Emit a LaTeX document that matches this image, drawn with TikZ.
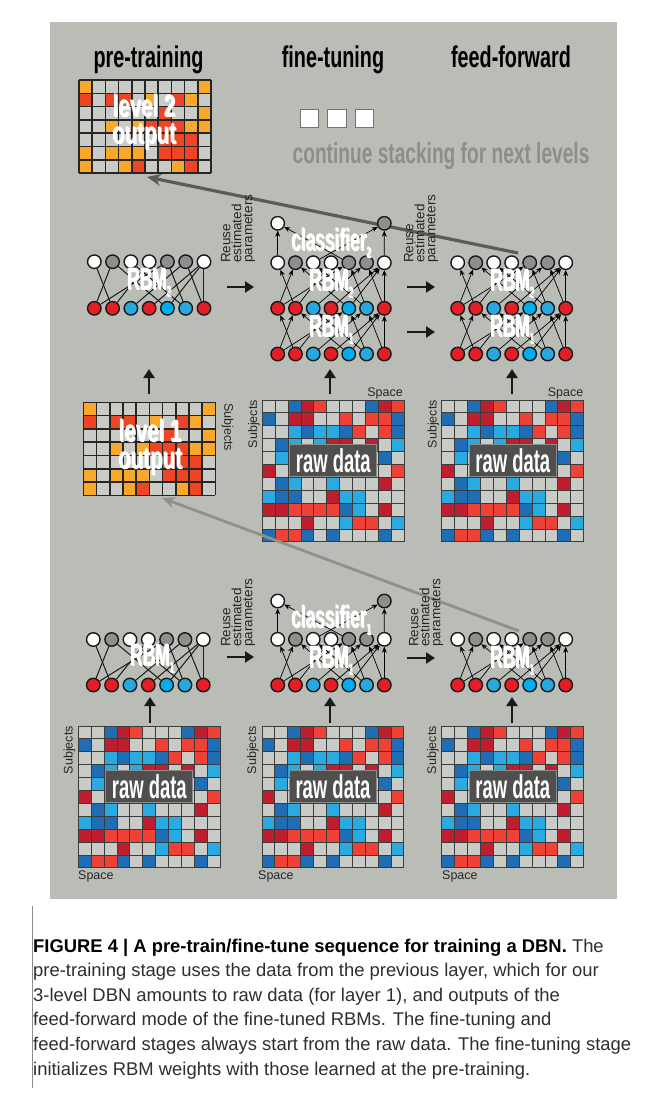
\documentclass[tikz,border=0pt]{standalone}
\usepackage{fontspec}
\setmainfont{Liberation Sans}
\newfontfamily\condA[FakeStretch=0.66]{Liberation Sans}
\newfontfamily\condB[FakeStretch=0.56]{Liberation Sans}
\usetikzlibrary{arrows.meta}
\definecolor{panel}{HTML}{BABCB6}
\definecolor{gr}{HTML}{C9CBC6}
\definecolor{db}{HTML}{1F6DB4}
\definecolor{lb}{HTML}{29AAE1}
\definecolor{dr}{HTML}{BE1E2D}
\definecolor{rd}{HTML}{EF4136}
\definecolor{or}{HTML}{F9A82B}
\definecolor{oq}{HTML}{EE4524}
\definecolor{nw}{HTML}{FFFFFF}
\definecolor{ng}{HTML}{8D8F8E}
\definecolor{nr}{HTML}{E31E25}
\definecolor{nb}{HTML}{27A8DF}
\definecolor{nc}{HTML}{00AEEF}
\definecolor{boxc}{HTML}{4F504E}
\definecolor{arrA}{HTML}{5A5C59}
\definecolor{arrB}{HTML}{8E908C}
\definecolor{stackc}{HTML}{8C8E8A}
\definecolor{rawline}{HTML}{3C3C3C}
\definecolor{captxt}{HTML}{2E2E2E}

\def\rawrows{{gr,gr,db,dr,rd,gr,gr,gr,db,dr,rd},{db,gr,dr,dr,gr,gr,rd,gr,rd,rd,db},{gr,gr,lb,db,lb,lb,db,rd,gr,rd,db},{gr,db,lb,gr,lb,dr,dr,gr,dr,gr,lb},{gr,lb,gr,gr,gr,gr,gr,gr,gr,db,gr},{dr,gr,gr,gr,gr,gr,gr,gr,gr,gr,rd},{gr,db,lb,gr,gr,lb,gr,gr,gr,dr,gr},{lb,db,db,gr,gr,dr,lb,lb,gr,gr,gr},{dr,dr,rd,rd,rd,rd,db,lb,gr,dr,gr},{gr,gr,gr,dr,gr,gr,lb,rd,rd,gr,lb},{db,rd,rd,db,gr,db,gr,gr,gr,db,gr}}
\def\outrows{{or,gr,gr,gr,gr,gr,gr,gr,gr,or},{oq,gr,oq,oq,gr,or,gr,oq,or,gr},{gr,gr,gr,gr,gr,gr,oq,gr,gr,or},{gr,gr,or,gr,or,oq,oq,oq,or,or},{gr,gr,gr,gr,gr,gr,oq,oq,oq,gr},{or,gr,or,or,or,gr,oq,oq,oq,gr},{or,gr,gr,or,oq,gr,gr,or,oq,gr}}

% name, x0, y0, cw, ch, ncols, nrows, rows, line style
\newcommand{\cellgrid}[9]{%
 \foreach \rw [count=\r] in #8 {%
  \foreach \cc [count=\k] in \rw {%
   \fill[fill=\cc] ({#2+(\k-1)*#4},{#3+(\r-1)*#5}) rectangle ++(#4,#5);
  }%
 }%
 \foreach \k in {0,...,#6} \draw[#9] ({#2+\k*#4},#3) -- ++(0,{#7*#5});
 \foreach \k in {0,...,#7} \draw[#9] (#2,{#3+\k*#5}) -- ++({#6*#4},0);
 \node[inner sep=0pt, outer sep=0pt, minimum width={#6*#4}, minimum height={#7*#5}, anchor=north west] (#1) at (#2,#3) {};
}
\newcommand{\rawgrid}[3]{% name, x0, y0
 \cellgrid{#1}{#2}{#3}{12.9}{12.9}{11}{11}{\rawrows}{line width=0.9pt, rawline}
 \node[rawbox] (#1box) at ({#2+71},{#3+60.5}) {raw data};
}
\newcommand{\layer}[5]{\foreach \cl [count=\i] in #5 {\node[nd, fill=\cl] (#1\i) at ({#2+(\i-1)*#3},#4) {};}}
\def\topcols{nw,ng,nw,nw,ng,ng,nw}
\def\botcols{nr,nr,nb,nr,nc,nb,nr}
\def\edges{1/2,2/1,2/5,5/1,3/6,6/3,5/6,7/4,7/5,7/7,4/2,6/7}
\newcommand{\undir}[2]{\foreach \tp/\bt in \edges {\draw[ln] (#1\tp) -- (#2\bt);}}
\newcommand{\direc}[2]{\foreach \tp/\bt in \edges {\draw[arr] (#2\bt) -- (#1\tp);}}
\newsavebox\labbox
\newcommand{\wlab}[5]{%
 \node[inner sep=0pt, text=white, font=#4] (#1) at (#2,#3) {\sbox\labbox{\begin{tabular}{@{}c@{}}#5\end{tabular}}\rlap{\kern1pt\raisebox{-1pt}{\color{black!60}\usebox\labbox}}\usebox\labbox};}
\newcommand{\hfont}{\condA\bfseries\fontsize{30}{30}\selectfont}
\newcommand{\lvfont}{\condA\bfseries\fontsize{31}{25}\selectfont}
\newcommand{\rbfont}{\condB\bfseries\fontsize{31}{31}\selectfont}
\newcommand{\sub}[1]{\raisebox{-7pt}{\fontsize{15}{15}\selectfont #1}}

\tikzset{
 nd/.style={circle, draw=black!90, line width=1.4pt, minimum size=13.5pt, inner sep=0pt},
 ln/.style={line width=1pt, black!90},
 arr/.style={line width=0.7pt, black, -{Stealth[length=6pt,width=5pt]}},
 bigarr/.style={line width=2.8pt, black!90, -{Triangle[length=9pt,width=11pt]}},
 rawbox/.style={fill=boxc, draw=black!45, line width=0.8pt, minimum width=87pt, minimum height=32pt, inner sep=0pt, text=white, font=\condB\bfseries\fontsize{33}{33}\selectfont},
 smalltxt/.style={inner sep=0pt, text=black!85, font=\fontsize{12.5}{12.5}\selectfont},
 reuse/.style={inner sep=0pt, rotate=90, align=left, text=black!85, font=\fontsize{13.5}{11}\selectfont, anchor=north west},
 hdr/.style={inner sep=0pt, anchor=base, font=\hfont},
 sqbox/.style={draw=black!55, fill=white, line width=0.6pt, minimum size=18.5pt, inner sep=0pt},
 captext/.style={inner sep=0pt, anchor=base west, text=captxt, font=\fontsize{18.4}{18.4}\selectfont},
}

\begin{document}
\begin{tikzpicture}[x=1pt,y=-1pt]
\useasboundingbox (0,0) rectangle (656,1093);
\fill[white] (0,0) rectangle (656,1093);
\fill[panel] (50,22) rectangle (617,899);

% headers
\node[hdr] (h1) at (148.5,67) {pre-training};
\node[hdr] (h2) at (333,67) {fine-tuning};
\node[hdr] (h3) at (511,67) {feed-forward};

% continue stacking
\node[sqbox] (sq1) at (309.5,118.5) {};
\node[sqbox] (sq2) at (337,118.5) {};
\node[sqbox] (sq3) at (364.5,118.5) {};
\node[inner sep=0pt, anchor=base west, text=stackc, font=\condA\bfseries\fontsize{29}{29}\selectfont] (cont) at (292.5,163) {continue stacking for next levels};

% grids
\cellgrid{out2}{79}{80}{13.2}{13.3}{10}{7}{\outrows}{line width=1.6pt, black!85}
\cellgrid{out1}{83.3}{402.3}{13.2}{13.3}{10}{7}{\outrows}{line width=1.6pt, black!85}
\rawgrid{rawD}{262.3}{400}
\rawgrid{rawE}{441.8}{400}
\rawgrid{rawA}{78.3}{726}
\rawgrid{rawB}{262}{726}
\rawgrid{rawC}{441.8}{726}

% grid texts
\wlab{lv2}{144}{123}{\lvfont}{level 2\\output}
\wlab{lv1}{150}{448}{\lvfont}{level 1\\output}
\node[smalltxt, rotate=-90, anchor=south west] (subjO) at (221.5,403) {Subjects};
\node[smalltxt, rotate=90, anchor=south east] (subjD) at (260,400) {Subjects};
\node[smalltxt, rotate=90, anchor=south east] (subjE) at (439.5,400) {Subjects};
\node[smalltxt, rotate=90, anchor=south east] (subjA) at (75.5,726) {Subjects};
\node[smalltxt, rotate=90, anchor=south east] (subjB) at (259,726) {Subjects};
\node[smalltxt, rotate=90, anchor=south east] (subjC) at (439,726) {Subjects};
\node[smalltxt, anchor=base east] (spD) at (403,396) {Space};
\node[smalltxt, anchor=base east] (spE) at (583.5,396) {Space};
\node[smalltxt, anchor=base west] (spA) at (78,879) {Space};
\node[smalltxt, anchor=base west] (spB) at (258,879) {Space};
\node[smalltxt, anchor=base west] (spC) at (442,879) {Space};

% long gray arrows
\coordinate (g2s) at (518,253);
\coordinate (g2e) at (147,177);
\coordinate (g1s) at (519,631);
\coordinate (g1e) at (162,498);
\draw[line width=3.2pt, arrA, -{Stealth[length=14pt,width=12pt]}] (g2s) -- (g2e);
\draw[line width=2.8pt, arrB, -{Stealth[length=13pt,width=11pt]}] (g1s) -- (g1e);

% networks level 2
\layer{pBt}{94.3}{18.28}{261.7}{\topcols}
\layer{pBb}{94.3}{18.28}{308.3}{\botcols}
\node[nd, fill=nw] (fBc1) at (277.7,223.3) {};
\node[nd, fill=ng] (fBc2) at (384.3,223.3) {};
\layer{fBh}{277.7}{17.77}{262.7}{\topcols}
\layer{fBm}{277.7}{17.77}{308.3}{\botcols}
\layer{fBb}{277.7}{17.77}{354}{\botcols}
\layer{eBh}{457.7}{18}{262.7}{\topcols}
\layer{eBm}{457.7}{18}{308.3}{\botcols}
\layer{eBb}{457.7}{18}{354}{\botcols}
% networks level 1
\layer{pAt}{93.3}{18.33}{639.5}{\topcols}
\layer{pAb}{93.3}{18.33}{685}{\botcols}
\node[nd, fill=nw] (fAc1) at (277.7,601) {};
\node[nd, fill=ng] (fAc2) at (384.3,601) {};
\layer{fAh}{277.7}{17.77}{639.3}{\topcols}
\layer{fAb}{277.7}{17.77}{685}{\botcols}
\layer{eAh}{457.7}{18}{639.3}{\topcols}
\layer{eAb}{457.7}{18}{685}{\botcols}

% edges
\undir{pBt}{pBb}
\undir{pAt}{pAb}
\direc{fBh}{fBm}
\direc{fBm}{fBb}
\direc{eBh}{eBm}
\direc{eBm}{eBb}
\direc{fAh}{fAb}
\direc{eAh}{eAb}
\foreach \h/\cc in {1/1,5/1,3/2,7/2} {\draw[arr] (fBh\h) -- (fBc\cc); \draw[arr] (fAh\h) -- (fAc\cc);}

% network labels
\wlab{lpB}{149}{284}{\rbfont}{RBM\sub{2}}
\wlab{lcB}{331}{244}{\rbfont}{classifier\sub{2}}
\wlab{lfB2}{331}{285}{\rbfont}{RBM\sub{2}}
\wlab{lfB1}{331}{331}{\rbfont}{RBM\sub{1}}
\wlab{leB2}{512}{285}{\rbfont}{RBM\sub{2}}
\wlab{leB1}{512}{331}{\rbfont}{RBM\sub{1}}
\wlab{lpA}{152}{660}{\rbfont}{RBM\sub{1}}
\wlab{lcA}{331}{621}{\rbfont}{classifier\sub{1}}
\wlab{lfA}{331}{662}{\rbfont}{RBM\sub{1}}
\wlab{leA}{512}{662}{\rbfont}{RBM\sub{1}}

% reuse texts
\node[reuse] (r2a) at (221,263) {Reuse\\estimated\\parameters};
\node[reuse] (r2b) at (404,263) {Reuse\\estimated\\parameters};
\node[reuse] (r1a) at (221,647) {Reuse\\estimated\\parameters};
\node[reuse] (r1b) at (409,647) {Reuse\\estimated\\parameters};

% big black arrows
\coordinate (h2a) at (227,287); \coordinate (h2b) at (254,287);
\coordinate (h2c) at (407,287); \coordinate (h2d) at (435,287);
\coordinate (h2e) at (407,332); \coordinate (h2f) at (435,332);
\coordinate (h1a) at (227,657); \coordinate (h1b) at (254,657);
\coordinate (h1c) at (407,658); \coordinate (h1d) at (435,658);
\draw[bigarr] (h2a) -- (h2b);
\draw[bigarr] (h2c) -- (h2d);
\draw[bigarr] (h2e) -- (h2f);
\draw[bigarr] (h1a) -- (h1b);
\draw[bigarr] (h1c) -- (h1d);
\coordinate (v2a) at (149,394); \coordinate (v2b) at (149,369);
\coordinate (v2c) at (330,394); \coordinate (v2d) at (330,369);
\coordinate (v2e) at (512,394); \coordinate (v2f) at (512,369);
\coordinate (v1a) at (150,723); \coordinate (v1b) at (150,697);
\coordinate (v1c) at (330,723); \coordinate (v1d) at (330,697);
\coordinate (v1e) at (512,723); \coordinate (v1f) at (512,697);
\draw[bigarr] (v2a) -- (v2b);
\draw[bigarr] (v2c) -- (v2d);
\draw[bigarr] (v2e) -- (v2f);
\draw[bigarr] (v1a) -- (v1b);
\draw[bigarr] (v1c) -- (v1d);
\draw[bigarr] (v1e) -- (v1f);

% caption
\coordinate (vl1) at (32,906); \coordinate (vl2) at (32,1088);
\draw[line width=0.8pt, black!45] (vl1) -- (vl2);
\node[captext] (cap1) at (33,952) {\textbf{\color{black}FIGURE 4 | A pre-train/fine-tune sequence for training a DBN.} The};
\node[captext] (cap2) at (33,976.6) {pre-training stage uses the data from the previous layer, which for our};
\node[captext] (cap3) at (33,1001.2) {3-level DBN amounts to raw data (for layer 1), and outputs of the};
\node[captext] (cap4) at (33,1025.8) {feed-forward mode of the fine-tuned RBMs. The fine-tuning and};
\node[captext] (cap5) at (33,1050.4) {feed-forward stages always start from the raw data. The fine-tuning stage};
\node[captext] (cap6) at (33,1075) {initializes RBM weights with those learned at the pre-training.};
\end{tikzpicture}
\end{document}
